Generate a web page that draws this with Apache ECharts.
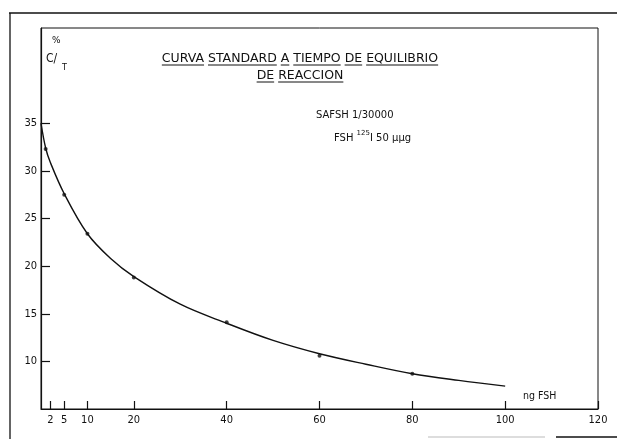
<!DOCTYPE html>
<html>
<head>
<meta charset="utf-8">
<script src="https://cdn.jsdelivr.net/npm/echarts@6/dist/echarts.min.js"></script>
<style>html,body{margin:0;padding:0;background:#fff}#c{width:617px;height:439px}</style>
</head>
<body>
<div id="c"></div>
<script>
// Data
const xTicks = [2, 5, 10, 20, 40, 60, 80, 100, 120];
const yTicks = [10, 15, 20, 25, 30, 35];
const curveX = [0, 1, 2, 5, 10, 15, 20, 30, 40, 50, 60, 70, 80, 90, 100];
const curveY = [35.0, 32.4, 30.9, 27.6, 23.4, 20.8, 18.9, 16.0, 14.0, 12.2, 10.8, 9.7, 8.7, 8.0, 7.4];
const pointX = [1, 5, 10, 20, 40, 60, 80];
const pointY = [32.3, 27.5, 23.4, 18.8, 14.1, 10.6, 8.7];
const titleLine1 = 'CURVA STANDARD A TIEMPO DE EQUILIBRIO';
const titleLine2 = 'DE REACCION';

const FONT = '"DejaVu Sans", sans-serif';
const FONTC = '"DejaVu Sans Condensed", "DejaVu Sans", sans-serif';
const INK = '#111';
const TSIZE = 12.5;

const curve = curveX.map((x, i) => [x, curveY[i]]);
const points = pointX.map((x, i) => [x, pointY[i]]);

// underline segments under each title word
function underline(text, cx, y, size) {
  const ctx = document.createElement('canvas').getContext('2d');
  ctx.font = size + 'px ' + FONT;
  const total = ctx.measureText(text).width;
  const start = cx - total / 2;
  const out = [];
  let pos = 0;
  text.split(' ').forEach((w) => {
    const ww = ctx.measureText(w).width;
    out.push({type: 'line', shape: {x1: start + pos, y1: y, x2: start + pos + ww, y2: y},
      style: {stroke: INK, lineWidth: 1}, silent: true});
    pos += ww + ctx.measureText(' ').width;
  });
  return out;
}

function txt(x, y, text, font, align) {
  return {type: 'text', x: x, y: y, silent: true,
    style: {text: text, font: font, fill: INK, textAlign: align || 'left', textVerticalAlign: 'top'}};
}

const chart = echarts.init(document.getElementById('c'), null, {renderer: 'canvas'});
const graphics = [
  {type: 'line', shape: {x1: 9, y1: 13, x2: 617, y2: 13}, style: {stroke: INK, lineWidth: 1.3}},
  {type: 'line', shape: {x1: 10, y1: 13, x2: 10, y2: 439}, style: {stroke: INK, lineWidth: 1.3}},
  {type: 'line', shape: {x1: 428, y1: 437, x2: 545, y2: 437}, style: {stroke: '#bbb', lineWidth: 1}},
  {type: 'line', shape: {x1: 556, y1: 437, x2: 617, y2: 437}, style: {stroke: INK, lineWidth: 1.5}},
  txt(300, 52, titleLine1, TSIZE + 'px ' + FONT, 'center'),
  txt(300, 69, titleLine2, TSIZE + 'px ' + FONT, 'center'),
  txt(52, 36, '%', '9px ' + FONT),
  txt(46, 53, 'C/', '12px ' + FONTC),
  txt(62, 63, 'T', '9px ' + FONTC),
  txt(316, 110, 'SAFSH 1/30000', '10px ' + FONT),
  {type: 'text', x: 334, y: 130, silent: true, style: {
    text: '{a|FSH }{s|125}{a|I 50 \u00b5\u00b5g}',
    rich: {a: {font: '10px ' + FONT, fill: INK, verticalAlign: 'bottom'},
           s: {font: '7px ' + FONT, fill: INK, verticalAlign: 'top', padding: [0, 0, 6, 0]}}}},
  txt(523, 391, 'ng FSH', '10.5px ' + FONTC)
].concat(underline(titleLine1, 300, 65, TSIZE), underline(titleLine2, 300, 82, TSIZE));

chart.setOption({
  animation: false,
  backgroundColor: '#fff',
  grid: {left: 41, right: 19, top: 28, bottom: 30, show: true, borderColor: INK, borderWidth: 1, backgroundColor: 'transparent'},
  xAxis: {
    type: 'value', min: 0, max: 120,
    axisLine: {show: true, lineStyle: {color: INK, width: 1.2}},
    axisTick: {show: true, inside: true, length: 8, customValues: xTicks, lineStyle: {color: INK, width: 1.2}},
    axisLabel: {customValues: xTicks, color: INK, fontSize: 11, fontFamily: FONTC, margin: 6},
    splitLine: {show: false}
  },
  yAxis: {
    type: 'value', min: 5, max: 45,
    axisLine: {show: true, lineStyle: {color: INK, width: 1.2}},
    axisTick: {show: true, inside: true, length: 9, customValues: yTicks, lineStyle: {color: INK, width: 1.2}},
    axisLabel: {customValues: yTicks, color: INK, fontSize: 11, fontFamily: FONTC, margin: 4},
    splitLine: {show: false}
  },
  series: [
    {type: 'line', data: curve, smooth: 0.35, showSymbol: false, lineStyle: {color: INK, width: 1.4}, silent: true},
    {type: 'scatter', data: points, symbolSize: 4, itemStyle: {color: INK}, silent: true}
  ],
  graphic: graphics
});
</script>
</body>
</html>
